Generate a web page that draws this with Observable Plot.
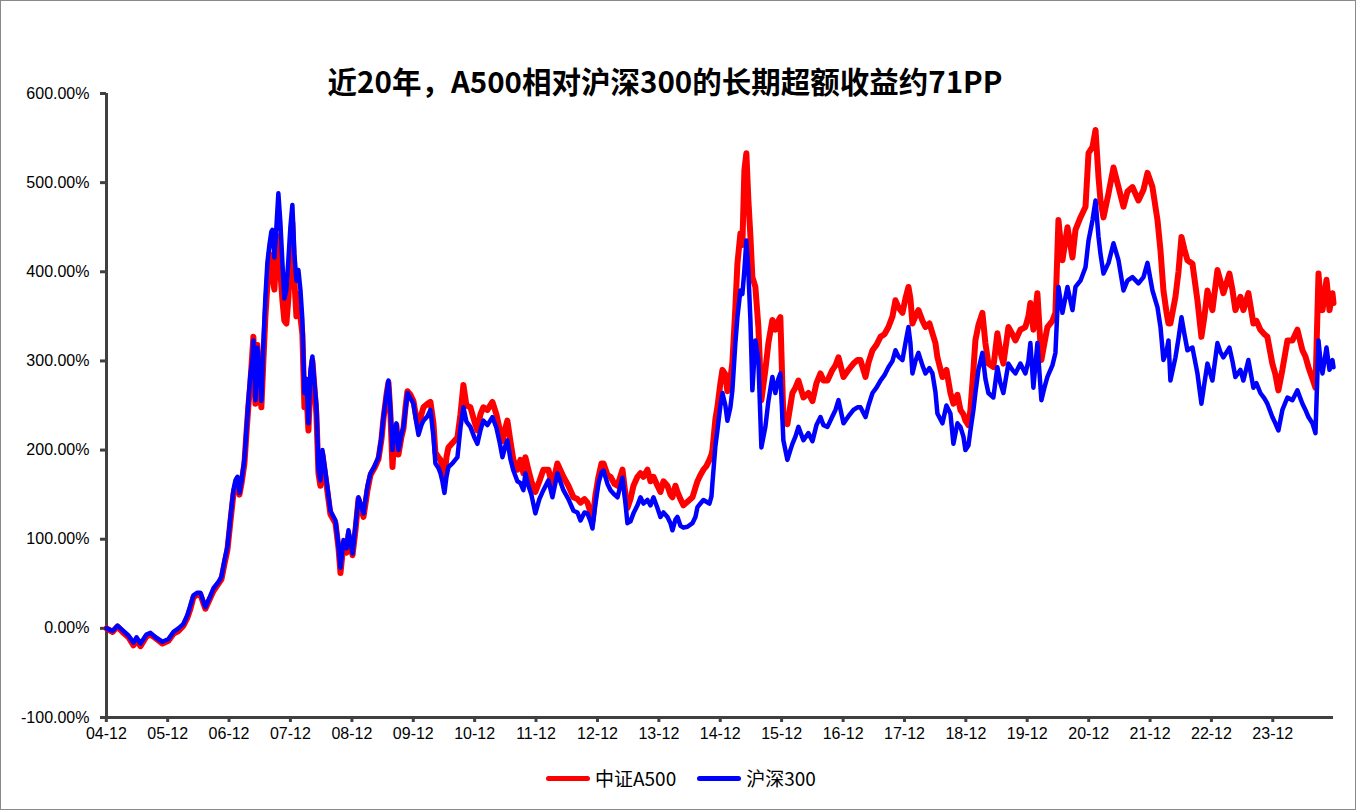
<!DOCTYPE html>
<html>
<head>
<meta charset="utf-8">
<script src="https://cdn.jsdelivr.net/npm/d3@7"></script>
<script src="https://cdn.jsdelivr.net/npm/@observablehq/plot@0.6"></script>
<style>
  body { margin: 0; background: #fff; }
  #wrap { position: relative; width: 1356px; height: 810px; overflow: hidden; background: #fff; }
  #frame { position: absolute; left: 0; top: 0; width: 1356px; height: 810px; border: 1px solid #8a8a8a; box-sizing: border-box; pointer-events: none; }
  #title { position: absolute; left: 0; width: 1330px; top: 62px; text-align: center; font: bold 29.5px/36px "Noto Sans CJK SC", sans-serif; color: #000; }
  #legend { position: absolute; top: 766px; left: 546px; display: flex; align-items: center; font: 19px/24px "Noto Sans CJK SC", sans-serif; color: #000; }
  .sw { width: 44px; height: 5px; border-radius: 3px; margin-right: 5px; }
  .item { display: flex; align-items: center; margin-right: 21px; }
  #chart { position: absolute; left: 0; top: 0; }
</style>
</head>
<body>
<div id="wrap">
  <div id="chart"></div>
  <div id="title"></div>
  <div id="legend"></div>
  <div id="frame"></div>
</div>
<script>
const titleText = "近20年，A500相对沪深300的长期超额收益约71PP";
const seriesNames = ["中证A500", "沪深300"];
const seriesColors = ["#ff0000", "#0000ff"];

// observation dates as decimal years
const dates = [
2005.000,2005.098,2005.179,2005.261,2005.358,2005.440,2005.489,2005.554,2005.651,2005.717,2005.798,2005.912,
2006.010,2006.091,2006.173,2006.254,2006.319,2006.368,2006.417,2006.482,2006.531,2006.580,2006.612,2006.678,2006.743,2006.824,2006.873,2006.922,2006.971,
2007.020,2007.068,2007.101,2007.134,2007.166,2007.199,2007.248,2007.280,2007.313,2007.345,2007.378,2007.394,2007.427,2007.459,2007.492,2007.524,2007.557,2007.590,2007.622,2007.655,2007.687,2007.704,2007.736,2007.769,2007.801,2007.834,2007.867,2007.899,2007.932,2007.964,2007.997,
2008.029,2008.062,2008.095,2008.127,2008.160,2008.192,2008.225,2008.257,2008.290,2008.323,2008.355,2008.388,2008.420,2008.453,2008.485,2008.518,2008.567,2008.648,2008.730,2008.779,2008.811,2008.860,2008.909,2008.941,
2009.007,2009.055,2009.104,2009.186,2009.251,2009.300,2009.365,2009.430,2009.479,2009.511,2009.560,2009.593,2009.625,2009.658,2009.691,2009.723,2009.756,2009.805,2009.837,2009.870,2009.902,2009.951,
2010.000,2010.049,2010.082,2010.130,2010.163,2010.228,2010.277,2010.326,2010.358,2010.407,2010.440,2010.472,2010.505,2010.538,2010.570,2010.635,2010.717,2010.766,2010.814,2010.863,2010.928,2010.994,
2011.042,2011.091,2011.140,2011.205,2011.287,2011.352,2011.401,2011.450,2011.499,2011.531,2011.580,2011.629,2011.694,2011.743,2011.792,2011.824,2011.873,2011.922,2011.987,
2012.052,2012.117,2012.199,2012.264,2012.345,2012.443,2012.524,2012.606,2012.671,2012.720,2012.785,2012.834,2012.883,2012.915,2012.964,
2013.013,2013.062,2013.095,2013.160,2013.209,2013.274,2013.323,2013.404,2013.453,2013.485,2013.534,2013.583,2013.648,2013.697,2013.746,2013.811,2013.860,2013.909,2013.974,
2014.023,2014.072,2014.137,2014.186,2014.218,2014.267,2014.300,2014.349,2014.397,2014.463,2014.544,2014.593,2014.626,2014.674,2014.723,2014.772,2014.821,2014.854,2014.870,2014.919,2014.951,
2015.000,2015.033,2015.081,2015.114,2015.163,2015.195,2015.244,2015.277,2015.326,2015.358,2015.391,2015.423,2015.456,2015.489,2015.521,2015.570,2015.619,2015.668,2015.733,2015.782,2015.847,2015.896,2015.945,2015.977,
2016.026,2016.091,2016.140,2016.173,2016.222,2016.271,2016.352,2016.433,2016.499,2016.564,2016.629,2016.678,2016.743,2016.824,2016.873,2016.922,
2017.003,2017.085,2017.166,2017.231,2017.280,2017.362,2017.411,2017.476,2017.541,2017.606,2017.671,2017.736,2017.802,2017.850,2017.899,2017.964,
2018.013,2018.062,2018.094,2018.127,2018.176,2018.225,2018.290,2018.339,2018.404,2018.453,2018.502,2018.534,2018.616,2018.681,2018.746,2018.795,2018.860,2018.909,2018.958,2018.991,
2019.039,2019.072,2019.121,2019.153,2019.202,2019.267,2019.316,2019.365,2019.446,2019.511,2019.560,2019.609,2019.691,2019.756,2019.805,2019.886,2019.968,
2020.017,2020.049,2020.098,2020.163,2020.228,2020.277,2020.326,2020.407,2020.456,2020.505,2020.570,2020.652,2020.733,2020.782,2020.863,2020.945,2020.994,
2021.059,2021.108,2021.157,2021.189,2021.238,2021.320,2021.401,2021.482,2021.564,2021.629,2021.710,2021.808,2021.890,2021.955,
2022.036,2022.118,2022.167,2022.215,2022.264,2022.297,2022.329,2022.411,2022.460,2022.509,2022.557,2022.606,2022.688,2022.769,2022.834,2022.883,2022.932,
2023.013,2023.095,2023.143,2023.192,2023.290,2023.339,2023.388,2023.469,2023.518,2023.600,2023.681,2023.730,2023.795,2023.860,2023.909,2023.990,
2024.039,2024.088,2024.153,2024.235,2024.316,2024.397,2024.479,2024.528,2024.577,2024.642,2024.691,2024.740,2024.772,2024.805,2024.870,2024.919,2024.967,2024.984
];

// cumulative return, %
const a500 = [
0,-4,2,-4,-10,-19,-13,-20,-9,-7,-11,-17,
-14,-6,-3,3,12,22,35,38,38,28,22,32,42,50,55,72,88,
120,150,160,168,150,162,185,218,250,275,310,327,252,318,280,248,300,350,385,420,415,395,380,420,440,400,368,345,342,370,420,
455,390,350,375,350,330,248,265,222,275,300,270,240,174,160,195,170,128,118,90,62,95,85,105,
82,110,145,125,155,172,180,190,212,235,262,276,240,181,215,228,195,215,224,248,266,262,
255,235,228,240,248,252,254,230,197,192,189,180,168,192,203,208,214,240,273,250,248,232,
222,240,248,245,254,240,225,210,225,233,210,189,178,189,174,192,178,165,153,
165,178,178,160,185,170,160,147,145,141,145,141,130,120,150,
170,185,185,172,170,162,160,178,150,135,145,160,170,174,170,178,165,170,160,
153,165,160,150,147,160,153,145,138,142,147,158,165,172,178,182,189,195,200,235,248,
275,290,285,266,280,298,360,409,443,430,514,533,480,440,394,383,338,256,290,320,346,335,345,349,
237,229,250,264,270,278,259,264,255,275,286,278,278,290,295,304,
282,290,297,301,301,282,298,312,318,327,330,338,350,368,360,354,
370,383,370,342,350,357,345,338,342,331,320,304,282,290,264,252,262,245,240,233,
228,245,290,323,340,354,320,297,293,331,310,297,338,330,323,335,338,
350,365,335,376,301,320,338,345,354,458,413,450,416,447,461,473,533,
540,559,506,480,461,488,517,495,473,490,495,480,492,511,
495,458,424,379,355,342,342,372,400,439,425,413,409,368,327,350,379,
357,402,390,376,398,380,357,372,357,376,342,345,335,330,327,297,
285,267,290,323,323,335,312,305,293,280,270,398,370,357,391,357,376,365
];

const hs300 = [
0,-3,3,-2,-8,-16,-10,-17,-7,-5,-10,-15,
-12,-4,0,5,15,26,37,40,40,30,24,34,45,52,58,76,92,
125,155,166,170,152,165,190,222,256,285,300,323,256,315,290,255,320,372,410,430,445,447,416,450,488,455,410,370,380,413,450,
475,420,390,402,380,346,264,280,230,290,305,275,250,178,166,200,175,132,121,92,68,99,90,110,
84,115,147,129,160,174,182,192,215,237,262,278,245,200,220,230,200,218,226,245,264,258,
252,230,217,228,233,238,245,215,185,180,174,165,152,170,181,185,192,225,248,232,226,214,
207,222,233,228,237,225,210,192,205,211,190,177,165,163,155,174,160,150,129,
145,155,166,147,174,155,145,132,130,121,130,129,120,112,140,
163,175,177,162,155,150,147,169,140,118,120,129,138,147,140,144,138,147,135,
125,130,125,118,110,122,125,115,113,114,118,125,136,140,144,142,140,148,163,205,222,
250,264,250,233,248,267,320,349,379,375,402,435,400,346,267,323,301,203,226,255,282,264,280,286,
211,189,200,207,215,226,211,219,210,228,237,228,226,238,245,256,
230,238,245,248,248,237,250,264,270,278,284,293,300,312,305,301,
320,338,320,286,300,309,295,286,292,286,265,241,230,250,241,207,230,226,215,200,
205,222,245,264,290,309,280,264,259,293,275,264,297,290,286,297,286,
300,320,270,320,256,270,282,295,309,383,354,383,357,383,390,405,435,
458,480,439,420,398,410,432,413,379,390,394,387,394,410,
379,360,338,301,310,323,278,304,325,349,330,312,315,286,252,275,297,
278,320,310,304,315,300,282,290,278,301,270,275,264,258,252,237,
230,222,245,259,256,267,252,245,237,230,219,323,300,286,315,290,301,293
];

const yTicks = [-100, 0, 100, 200, 300, 400, 500, 600];
const xTickDates = ["2004-12-31","2005-12-31","2006-12-31","2007-12-31","2008-12-31","2009-12-31","2010-12-31","2011-12-31","2012-12-31","2013-12-31",
                    "2014-12-31","2015-12-31","2016-12-31","2017-12-31","2018-12-31","2019-12-31","2020-12-31","2021-12-31","2022-12-31","2023-12-31"];
const xTickLabels = ["04-12","05-12","06-12","07-12","08-12","09-12","10-12","11-12","12-12","13-12",
                     "14-12","15-12","16-12","17-12","18-12","19-12","20-12","21-12","22-12","23-12"];
const xDomain = [2005.0, 2024.984];

function toDate(y) {
  const yr = Math.floor(y);
  const s = Date.UTC(yr, 0, 1), e = Date.UTC(yr + 1, 0, 1);
  return new Date(s + (y - yr) * (e - s));
}
const parse = d3.utcParse("%Y-%m-%d");
const tickDates = xTickDates.map(parse);
const labelByTime = new Map(tickDates.map((d, i) => [+d, xTickLabels[i]]));

const rows = [];
dates.forEach((t, i) => {
  rows.push({date: toDate(t), value: a500[i], series: seriesNames[0]});
});
dates.forEach((t, i) => {
  rows.push({date: toDate(t), value: hs300[i], series: seriesNames[1]});
});

const axisColor = "#404040";
const chart = Plot.plot({
  width: 1356,
  height: 810,
  marginLeft: 106,
  marginRight: 23,
  marginTop: 93,
  marginBottom: 93,
  style: {fontFamily: "'Liberation Sans', Arial, sans-serif", fontSize: "16px", color: "#000", background: "transparent"},
  x: {type: "utc", domain: xDomain.map(toDate), label: null},
  y: {domain: [-100, 600], label: null},
  marks: [
    Plot.axisY(yTicks, {tickSize: 6, tickPadding: 11, stroke: axisColor, strokeWidth: 3, fill: "#000", fontSize: 16,
      tickFormat: d => d.toFixed(2) + "%", label: null}),
    Plot.axisX(tickDates, {tickSize: 5, tickPadding: 5, stroke: axisColor, strokeWidth: 3, fill: "#000", fontSize: 16,
      tickFormat: d => labelByTime.get(+d), label: null}),
    Plot.ruleX([toDate(xDomain[0])], {stroke: axisColor, strokeWidth: 3}),
    Plot.ruleY([-100], {stroke: axisColor, strokeWidth: 3}),
    Plot.line(rows.filter(r => r.series === seriesNames[0]), {x: "date", y: "value", stroke: seriesColors[0], strokeWidth: 6, strokeLinejoin: "round"}),
    Plot.line(rows.filter(r => r.series === seriesNames[1]), {x: "date", y: "value", stroke: seriesColors[1], strokeWidth: 4.5, strokeLinejoin: "round"})
  ]
});
// enforce tick label font on every text node
chart.querySelectorAll("text").forEach(t => {
  t.setAttribute("font-size", "16");
  t.setAttribute("font-family", "Liberation Sans, Arial, sans-serif");
  t.style.fontSize = "16px";
  t.style.fontFamily = "'Liberation Sans', Arial, sans-serif";
});
chart.querySelectorAll("g").forEach(g => {
  if (g.getAttribute("font-size")) g.setAttribute("font-size", "16");
});
document.getElementById("chart").appendChild(chart);
document.getElementById("title").textContent = titleText;

const legend = document.getElementById("legend");
seriesNames.forEach((name, i) => {
  const item = document.createElement("div");
  item.className = "item";
  const sw = document.createElement("div");
  sw.className = "sw";
  sw.style.background = seriesColors[i];
  const label = document.createElement("span");
  label.textContent = name;
  item.appendChild(sw);
  item.appendChild(label);
  legend.appendChild(item);
});
</script>
</body>
</html>
